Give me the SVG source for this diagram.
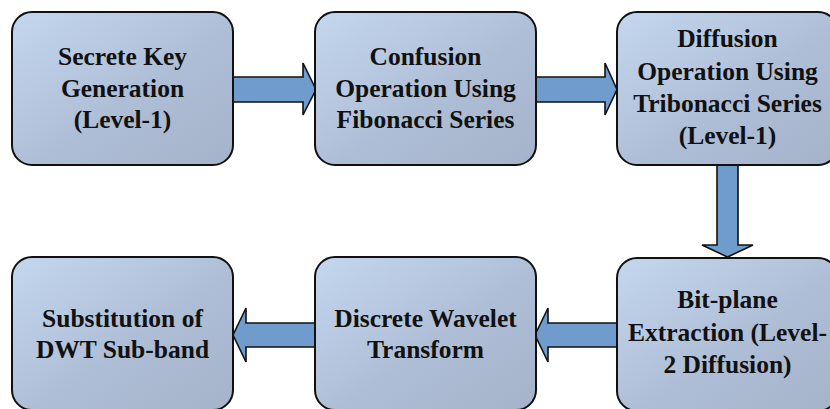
<svg xmlns="http://www.w3.org/2000/svg" width="830" height="409" viewBox="0 0 830 409">
  <defs>
    <linearGradient id="boxFill" x1="0" y1="0" x2="1" y2="1">
      <stop offset="0" stop-color="#c4d7ef"/>
      <stop offset="0.55" stop-color="#aebed6"/>
      <stop offset="1" stop-color="#a5b3ca"/>
    </linearGradient>
    <style>
      .box { fill: url(#boxFill); stroke: #111; stroke-width: 2; }
      .arrow { fill: #6f9ccc; stroke: #111; stroke-width: 1.6; stroke-linejoin: miter; }
      .label { font-family: "Liberation Serif", "Times New Roman", serif; font-weight: bold; font-size: 25.5px; fill: #111; text-anchor: middle; }
    </style>
  </defs>
  <rect width="830" height="409" fill="#ffffff"/>

  <!-- connectors -->
  <g id="connectors">
    <polygon class="arrow" points="233,77 303,77 303,63 316,89.5 303,115 303,102 233,102"/>
    <polygon class="arrow" points="535,77 605,77 605,63 617,89.5 605,115 605,102 535,102"/>
    <polygon class="arrow" points="717,165 738,165 738,245 753,245 727.5,257 702,245 717,245"/>
    <polygon class="arrow" points="617,323 548,323 548,308 535,335 548,362 548,347 617,347"/>
    <polygon class="arrow" points="315,323 246,323 246,308 233,335 246,362 246,347 315,347"/>
  </g>

  <g id="secret-key">
    <rect class="box" x="12" y="12" width="221" height="153" rx="20"/>
    <text class="label" x="122.5" y="65">Secrete Key</text>
    <text class="label" x="122.5" y="97">Generation</text>
    <text class="label" x="122.5" y="128">(Level-1)</text>
  </g>

  <g id="confusion">
    <rect class="box" x="315" y="12" width="221" height="153" rx="20"/>
    <text class="label" x="425.5" y="65">Confusion</text>
    <text class="label" x="425.5" y="97">Operation Using</text>
    <text class="label" x="425.5" y="128">Fibonacci Series</text>
  </g>

  <g id="diffusion">
    <rect class="box" x="617" y="12" width="221" height="153" rx="20"/>
    <text class="label" x="727.5" y="47">Diffusion</text>
    <text class="label" x="727.5" y="79.5">Operation Using</text>
    <text class="label" x="727.5" y="111.5">Tribonacci Series</text>
    <text class="label" x="727.5" y="144">(Level-1)</text>
  </g>

  <g id="bit-plane">
    <rect class="box" x="617" y="258" width="221" height="153" rx="20"/>
    <text class="label" x="727.5" y="308">Bit-plane</text>
    <text class="label" x="727.5" y="341">Extraction (Level-</text>
    <text class="label" x="727.5" y="373">2 Diffusion)</text>
  </g>

  <g id="dwt">
    <rect class="box" x="315" y="257" width="221" height="153" rx="20"/>
    <text class="label" x="425.5" y="327">Discrete Wavelet</text>
    <text class="label" x="425.5" y="358">Transform</text>
  </g>

  <g id="substitution">
    <rect class="box" x="12" y="257" width="221" height="153" rx="20"/>
    <text class="label" x="122.5" y="327">Substitution of</text>
    <text class="label" x="122.5" y="358">DWT Sub-band</text>
  </g>
</svg>
